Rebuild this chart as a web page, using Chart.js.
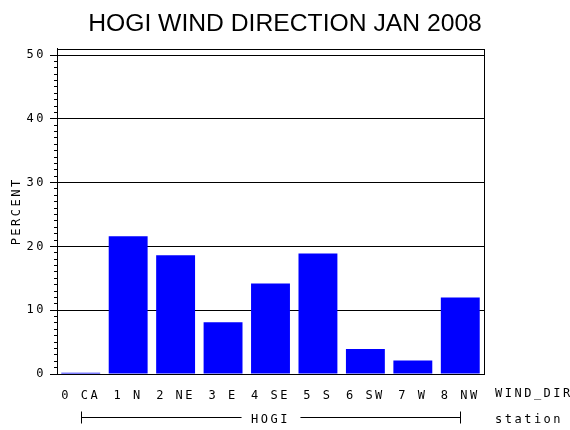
<!DOCTYPE html>
<html>
<head>
<meta charset="utf-8">
<title>HOGI wind direction</title>
<script src="https://cdn.jsdelivr.net/npm/chart.js@4/dist/chart.umd.min.js"></script>
<style>
  body { margin: 0; background: #fff; }
  #box { width: 570px; height: 430px; position: relative; }
</style>
</head>
<body>
<div id="box"><canvas id="chart_wind"></canvas></div>
<script>
// Chart data
const dirLabels = ['0 CA', '1 N', '2 NE', '3 E', '4 SE', '5 S', '6 SW', '7 W', '8 NW'];
const percentValues = [0.2, 21.6, 18.6, 8.1, 14.2, 18.9, 3.9, 2.1, 12.0];
const yMajorTicks = [0, 10, 20, 30, 40, 50];
const groupName = 'HOGI';
const axisNameX = 'WIND_DIR';
const axisNameGroup = 'station';

const labelFont = { family: 'DejaVu Sans Mono', size: 12 };
const spacing = '2.5px';

// Extra bits: frame box, right side names, the station bracket
const extrasPlugin = {
    id: 'extras',
    beforeDraw(chart) {
        const ctx = chart.ctx;
        ctx.letterSpacing = spacing;
        const tb = chart.titleBlock;
        if (tb && !tb._noSpacing) { // main title keeps normal spacing
            const orig = tb.draw.bind(tb);
            tb.draw = function(area) {
                const ls = ctx.letterSpacing;
                ctx.letterSpacing = '0px';
                orig(area);
                ctx.letterSpacing = ls;
            };
            tb._noSpacing = true;
        }
    },
    afterDraw(chart) {
        const ctx = chart.ctx;
        const area = chart.chartArea;
        const xs = chart.scales.x;
        ctx.save();
        ctx.letterSpacing = spacing;
        ctx.strokeStyle = '#000';
        ctx.lineWidth = 1;
        ctx.strokeRect(Math.round(area.left) + 0.5, Math.round(area.top) + 0.5,
            Math.round(area.right - area.left), Math.round(area.bottom - area.top));

        ctx.fillStyle = '#000';
        ctx.font = '12px "DejaVu Sans Mono"';
        ctx.textAlign = 'left';
        ctx.textBaseline = 'middle';
        ctx.fillText(axisNameX, area.right + 11, area.bottom + 20);
        ctx.fillText(axisNameGroup, area.right + 11, area.bottom + 46);

        // bracket from first to last category, broken round the group name
        const x0 = Math.round(xs.getPixelForValue(0)) + 0.5;
        const x1 = Math.round(xs.getPixelForValue(dirLabels.length - 1)) + 0.5;
        const y = Math.round(area.bottom + 43) + 0.5;
        const mid = (x0 + x1) / 2;
        const half = ctx.measureText(groupName).width / 2 + 10;
        ctx.beginPath();
        ctx.moveTo(x0, y - 6); ctx.lineTo(x0, y + 6);
        ctx.moveTo(x0, y); ctx.lineTo(mid - half, y);
        ctx.moveTo(mid + half, y); ctx.lineTo(x1, y);
        ctx.moveTo(x1, y - 6); ctx.lineTo(x1, y + 6);
        ctx.stroke();
        ctx.restore();
    }
};

const ctx = document.getElementById('chart_wind').getContext('2d');
const windChart = new Chart(ctx, {
    type: 'bar',
    data: {
        labels: dirLabels,
        datasets: [{
            label: 'PERCENT',
            data: percentValues,
            backgroundColor: '#0000ff',
            borderWidth: 0,
            barPercentage: 0.82,
            categoryPercentage: 1.0
        }]
    },
    options: {
        responsive: true,
        maintainAspectRatio: false,
        animation: false,
        layout: { padding: 0 },
        plugins: {
            legend: { display: false },
            tooltip: { enabled: false },
            title: {
                display: true,
                text: 'HOGI WIND DIRECTION JAN 2008',
                color: '#000',
                font: { family: 'Liberation Sans', size: 24.7, weight: 'normal' },
                padding: { top: 9, bottom: 10 }
            }
        },
        scales: {
            x: {
                grid: { display: false },
                border: { display: true, color: '#000', width: 1 },
                ticks: {
                    color: '#000',
                    font: labelFont,
                    padding: 7,
                    autoSkip: false,
                    maxRotation: 0
                },
                title: {
                    display: true,
                    text: groupName,
                    color: '#000',
                    font: labelFont,
                    padding: { top: 3, bottom: 3 }
                },
                afterFit(scale) { scale.height = 56; }
            },
            y: {
                weight: 1,
                z: 1,
                min: 0,
                max: 51,
                grid: { color: '#000', lineWidth: 1, tickLength: 7 },
                border: { display: true, color: '#000', width: 1 },
                ticks: { color: '#000', font: labelFont, padding: 4 },
                afterBuildTicks(scale) {
                    scale.ticks = yMajorTicks.map(v => ({ value: v }));
                },
                title: {
                    display: true,
                    text: 'PERCENT',
                    color: '#000',
                    font: labelFont,
                    padding: { top: 10, bottom: 0 }
                },
                afterFit(scale) { scale.width = 57; }
            },
            yMinor: { // small ticks every unit
                position: 'left',
                weight: 0,
                min: 0,
                max: 51,
                grid: { drawOnChartArea: false, color: '#000', tickLength: 3 },
                border: { display: false },
                ticks: { display: false, stepSize: 1 },
                afterBuildTicks(scale) {
                    scale.ticks = scale.ticks.filter(t => t.value <= 50);
                },
                afterFit(scale) { scale.width = 0; }
            },
            yRight: { // empty room on the right for the axis names
                position: 'right',
                grid: { display: false },
                border: { display: false },
                ticks: { display: false },
                afterFit(scale) { scale.width = 86; }
            }
        }
    },
    plugins: [extrasPlugin]
});
</script>
</body>
</html>
